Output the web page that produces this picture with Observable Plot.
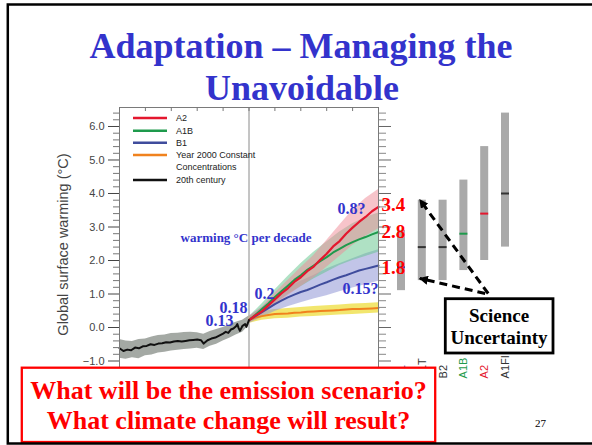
<!DOCTYPE html>
<html><head><meta charset="utf-8">
<script src="https://cdn.jsdelivr.net/npm/d3@7"></script>
<script src="https://cdn.jsdelivr.net/npm/@observablehq/plot@0.6"></script>
<style>
html,body{margin:0;padding:0;background:#fff;}
#slide{position:relative;width:592px;height:445px;overflow:hidden;background:#fff;}
#slide svg{position:absolute;left:0;top:0;}
</style></head><body><div id="slide"></div>
<script>
// ---------------- DATA ----------------
// 20th century observed-model mean (°C, relative to 1980-1999)
const years20 = [1900,1903,1906,1909,1912,1915,1918,1921,1924,1927,1930,1933,1936,1939,1942,1945,1948,1951,1954,1957,1960,1963,1965,1968,1971,1974,1977,1980,1982,1984,1986,1988,1990,1991,1992,1993,1995,1997,1998,2000];
const temp20  = [-0.62,-0.70,-0.66,-0.68,-0.60,-0.62,-0.56,-0.55,-0.50,-0.52,-0.48,-0.47,-0.44,-0.45,-0.42,-0.40,-0.42,-0.40,-0.38,-0.37,-0.36,-0.38,-0.48,-0.38,-0.33,-0.30,-0.24,-0.18,-0.13,-0.16,-0.06,-0.03,0.04,0.10,-0.02,-0.10,0.05,0.10,0.02,0.22];
const band20Years = [1900,1905,1910,1915,1920,1925,1930,1935,1940,1945,1950,1955,1960,1965,1970,1975,1980,1985,1990,1995,2000];
const band20Lo = [-0.92,-0.95,-0.90,-0.93,-0.84,-0.82,-0.76,-0.74,-0.70,-0.68,-0.66,-0.64,-0.62,-0.66,-0.56,-0.50,-0.40,-0.32,-0.22,-0.14,0.06];
const band20Hi = [-0.36,-0.40,-0.42,-0.36,-0.34,-0.28,-0.24,-0.22,-0.18,-0.17,-0.15,-0.14,-0.16,-0.20,-0.12,-0.06,0.00,0.08,0.16,0.22,0.34];

// 21st century projections (multi-model means)
const projYears = [2000,2005,2010,2015,2020,2025,2030,2035,2040,2045,2050,2055,2060,2065,2070,2075,2080,2085,2090,2095,2100];
const a2Mean    = [0.22,0.36,0.48,0.66,0.84,1.02,1.17,1.36,1.50,1.68,1.82,2.02,2.20,2.42,2.58,2.80,2.98,3.15,3.30,3.47,3.60];
const a1bMean   = [0.22,0.38,0.55,0.72,0.91,1.08,1.25,1.42,1.56,1.72,1.85,1.98,2.10,2.24,2.35,2.46,2.55,2.63,2.70,2.78,2.85];
const b1Mean    = [0.22,0.34,0.46,0.58,0.70,0.80,0.90,0.98,1.06,1.12,1.20,1.28,1.35,1.43,1.50,1.56,1.63,1.70,1.75,1.80,1.85];
const constMean = [0.22,0.30,0.34,0.37,0.40,0.41,0.42,0.44,0.45,0.47,0.48,0.49,0.50,0.51,0.52,0.54,0.55,0.55,0.56,0.57,0.58];

const bandYears = [2000,2010,2020,2030,2040,2050,2060,2070,2080,2090,2100];
const a2Lo    = [0.12,0.36,0.66,0.95,1.22,1.48,1.80,2.12,2.45,2.72,2.95];
const a2Hi    = [0.32,0.60,1.02,1.40,1.78,2.15,2.60,3.05,3.50,3.85,4.12];
const a1bLo   = [0.12,0.40,0.70,0.98,1.22,1.45,1.65,1.85,2.00,2.12,2.25];
const a1bHi   = [0.32,0.70,1.12,1.52,1.90,2.25,2.55,2.85,3.10,3.28,3.42];
const b1Lo    = [0.12,0.30,0.48,0.62,0.74,0.85,0.95,1.07,1.18,1.28,1.38];
const b1Hi    = [0.32,0.60,0.92,1.18,1.38,1.55,1.75,1.90,2.05,2.20,2.32];
const constLo = [0.12,0.22,0.26,0.28,0.31,0.33,0.35,0.37,0.39,0.41,0.43];
const constHi = [0.32,0.48,0.54,0.57,0.60,0.63,0.65,0.67,0.70,0.72,0.74];

// 2090-2099 likely ranges per SRES scenario
const scenarios    = ["B1","A1T","B2","A1B","A2","A1FI"];
const rangeLow     = [1.1,1.4,1.4,1.7,2.0,2.4];
const rangeHigh    = [2.9,3.8,3.8,4.4,5.4,6.4];
const bestEstimate = [1.8,2.4,2.4,2.8,3.4,4.0];

// tick values
const yMajorTicks = [-1,0,1,2,3,4,5,6];
const yMinorTicks = [-1.2,-0.8,-0.6,-0.4,-0.2,0.2,0.4,0.6,0.8,1.2,1.4,1.6,1.8,2.2,2.4,2.6,2.8,3.2,3.4,3.6,3.8,4.2,4.4,4.6,4.8,5.2,5.4,5.6,5.8,6.2,6.4];
const xTopTicks = [1900,1920,1940,1960,1980,2000,2020,2040,2060,2080,2100];

// labels
const legendLabels = ["A2","A1B","B1","Year 2000 Constant","Concentrations","20th century"];
const rateLabels = ["0.13","0.18","0.2","0.15?","0.8?"];
const endLabels = ["3.4","2.8","1.8"];

// ---------------- BUILD ----------------
const W = 592, H = 445;
const yDomain = [-1.343, 6.567];
const M = {top:107, bottom:73};
const rows = (xs, ys) => xs.map((x,i)=>({year:x, value:ys[i]}));
const bandRows = (xs, lo, hi) => xs.map((x,i)=>({year:x, lo:lo[i], hi:hi[i]}));
const C = {a2:"#e4172e", a1b:"#1e9a4c", b1:"#3f4c9c", cst:"#f0821e", c20:"#111111"};
const blue = "#3333cc";
const serif = "'Liberation Serif','Times New Roman',serif";
const sans = "'Liberation Sans',Arial,sans-serif";

const slide = document.getElementById("slide");

// ---- bar panel (behind) ----
const barTable = scenarios.map((s,i)=>({s, lo:rangeLow[i], hi:rangeHigh[i], mid:bestEstimate[i]}));
const scenColor = {B1:C.b1, A1T:"#333333", B2:"#333333", A1B:C.a1b, A2:C.a2, A1FI:"#333333"};
const bars = Plot.plot({
  width:W, height:H, marginLeft:390.6, marginRight:76.6, marginTop:M.top, marginBottom:M.bottom,
  x:{type:"band", domain:scenarios, paddingInner:0.615, paddingOuter:0.3075, align:0.5, round:false, axis:null},
  y:{domain:yDomain, axis:null},
  color:{type:"identity"},
  style:{background:"transparent", overflow:"visible", fontFamily:sans},
  marks:[
    Plot.barY(barTable, {x:"s", y1:"lo", y2:"hi", fill:"#a9a9a9"}),
    Plot.tickY(barTable, {x:"s", y:"mid", stroke:d=>scenColor[d.s], strokeWidth:2}),
    Plot.text(scenarios, {x:d=>d, y:()=>-1.52, rotate:-90, textAnchor:"start", fill:d=>scenColor[d], fontSize:11})
  ]
});
slide.appendChild(bars);

// ---- main time-series panel ----
const main = Plot.plot({
  width:W, height:H, marginLeft:119, marginRight:214, marginTop:M.top, marginBottom:M.bottom,
  x:{domain:[1900,2100], axis:null},
  y:{domain:yDomain, axis:null},
  style:{background:"transparent", overflow:"visible", fontFamily:sans},
  marks:[
    Plot.ruleX([2000], {stroke:"#8a8a8a", strokeWidth:1}),
    Plot.areaY(bandRows(band20Years,band20Lo,band20Hi), {x:"year", y1:"lo", y2:"hi", fill:"#9aa09a", fillOpacity:0.9}),
    Plot.areaY(bandRows(bandYears,constLo,constHi), {x:"year", y1:"lo", y2:"hi", fill:"#efe04a", fillOpacity:0.8}),
    Plot.areaY(bandRows(bandYears,b1Lo,b1Hi), {x:"year", y1:"lo", y2:"hi", fill:"#8f96d6", fillOpacity:0.55}),
    Plot.areaY(bandRows(bandYears,a1bLo,a1bHi), {x:"year", y1:"lo", y2:"hi", fill:"#5fc48a", fillOpacity:0.5}),
    Plot.areaY(bandRows(bandYears,a2Lo,a2Hi), {x:"year", y1:"lo", y2:"hi", fill:"#f08a95", fillOpacity:0.5}),
    Plot.line(rows(projYears,constMean), {x:"year", y:"value", stroke:C.cst, strokeWidth:2}),
    Plot.line(rows(projYears,b1Mean), {x:"year", y:"value", stroke:C.b1, strokeWidth:2}),
    Plot.line(rows(projYears,a1bMean), {x:"year", y:"value", stroke:C.a1b, strokeWidth:2}),
    Plot.line(rows(projYears,a2Mean), {x:"year", y:"value", stroke:C.a2, strokeWidth:2.2}),
    Plot.line(rows(years20,temp20), {x:"year", y:"value", stroke:C.c20, strokeWidth:2}),
    Plot.frame({stroke:"#7a7a7a", strokeWidth:1}),
    Plot.ruleX(xTopTicks, {x:d=>d, y1:()=>yDomain[1], y2:()=>yDomain[1]-0.12, stroke:"#777"}),
    Plot.axisY({anchor:"left", ticks:yMajorTicks, tickSize:11, tickPadding:4, label:null, color:"#444", fontSize:11,
      tickFormat:d=>(d<0?"\u2212":"")+Math.abs(d).toFixed(1)}),
    Plot.axisY({anchor:"left", ticks:yMinorTicks, tickSize:6, label:null, color:"#777", tickFormat:()=>""}),
    Plot.axisY({anchor:"right", ticks:yMajorTicks, tickSize:12, label:null, color:"#666", tickFormat:()=>""}),
    Plot.axisY({anchor:"right", ticks:yMinorTicks, tickSize:7, label:null, color:"#888", tickFormat:()=>""}),
    // annotations
    Plot.text(["warming °C per decade"], {x:()=>1997.7, y:()=>2.67, fill:blue, fontSize:13, fontWeight:"bold", fontFamily:serif}),
    Plot.text(rateLabels, {x:(d,i)=>[1977.2,1988.0,2012.0,2086.1,2079.2][i], y:(d,i)=>[0.19,0.60,1.01,1.16,3.55][i],
      fill:blue, fontSize:16, fontWeight:"bold", fontFamily:serif}),
    Plot.text(endLabels, {x:()=>2102.3, y:(d,i)=>[3.67,2.84,1.78][i], textAnchor:"start", fill:"#ff0000", fontSize:19, fontWeight:"bold", fontFamily:serif})
  ]
});
slide.appendChild(main);

// ---- overlay: slide text, boxes, legend, arrows ----
const ov = d3.select(slide).append("svg").attr("width",W).attr("height",H);
const defs = ov.append("defs");
defs.append("marker").attr("id","ah").attr("viewBox","0 0 10 10").attr("refX",9).attr("refY",5)
  .attr("markerWidth",9).attr("markerHeight",9).attr("markerUnits","userSpaceOnUse").attr("orient","auto")
  .append("path").attr("d","M0,0L10,5L0,10z").attr("fill","#000");

// legend
const legY = [118,130.7,142.7,155,180];
const legC = [C.a2,C.a1b,C.b1,C.cst,C.c20];
legY.forEach((y,i)=>{
  ov.append("line").attr("x1",133).attr("x2",167).attr("y1",y).attr("y2",y).attr("stroke",legC[i]).attr("stroke-width",2.5);
});
const legTextY = [118,130.7,142.7,155,166.7,180];
legendLabels.forEach((t,i)=>{
  ov.append("text").attr("x",176).attr("y",legTextY[i]+3.2).attr("font-family",sans).attr("font-size",9).attr("fill","#222").text(t);
});

// y-axis title
ov.append("text").attr("transform","translate(68,244.5) rotate(-90)").attr("text-anchor","middle")
  .attr("font-family",sans).attr("font-size",14.5).attr("fill","#444").text("Global surface warming (°C)");

// arrows from Science Uncertainty box to A1T range ends
const xs = bars.scale("x"), ys = bars.scale("y");
const cx = s => xs.apply(s) + xs.bandwidth/2;
const startX = cx("A2") + 4, startY = ys.apply(1.0);
[[startX, startY, cx("A1T")-2, ys.apply(rangeHigh[1])], [startX-3, startY, cx("A1T")-2, ys.apply(rangeLow[1]+0.05)]].forEach(([x1,y1,x2,y2])=>{
  ov.append("line").attr("x1",x1).attr("y1",y1).attr("x2",x2).attr("y2",y2)
    .attr("stroke","#000").attr("stroke-width",3).attr("stroke-dasharray","8,5").attr("marker-end","url(#ah)");
});

// Science Uncertainty box
ov.append("rect").attr("x",445.3).attr("y",298.7).attr("width",107.7).attr("height",54.3)
  .attr("fill","#fff").attr("stroke","#000").attr("stroke-width",2.8);
ov.append("text").attr("x",499).attr("y",322).attr("text-anchor","middle").attr("font-family",serif).attr("font-weight","bold").attr("font-size",19).text("Science");
ov.append("text").attr("x",499).attr("y",344).attr("text-anchor","middle").attr("font-family",serif).attr("font-weight","bold").attr("font-size",19).text("Uncertainty");

// title
ov.append("text").attr("x",301).attr("y",58).attr("text-anchor","middle").attr("font-family",serif).attr("font-weight","bold").attr("font-size",36).attr("fill",blue).text("Adaptation \u2013 Managing the");
ov.append("text").attr("x",302).attr("y",100).attr("text-anchor","middle").attr("font-family",serif).attr("font-weight","bold").attr("font-size",36).attr("fill",blue).text("Unavoidable");

// red question box
ov.append("rect").attr("x",21.8).attr("y",367.7).attr("width",413.4).attr("height",74.3)
  .attr("fill","#fff").attr("stroke","#ff0000").attr("stroke-width",2.3);
ov.append("text").attr("x",228.5).attr("y",399).attr("text-anchor","middle").attr("font-family",serif).attr("font-weight","bold").attr("font-size",26).attr("fill","#ff0000").text("What will be the emission scenario?");
ov.append("text").attr("x",228.5).attr("y",429).attr("text-anchor","middle").attr("font-family",serif).attr("font-weight","bold").attr("font-size",26).attr("fill","#ff0000").text("What climate change will result?");

// page number
ov.append("text").attr("x",535).attr("y",427).attr("font-family",serif).attr("font-size",11).attr("fill","#000").text("27");

// slide border
ov.append("rect").attr("x",7.8).attr("y",4.5).attr("width",600).attr("height",439).attr("fill","none").attr("stroke","#000").attr("stroke-width",2.5);
</script></body></html>
